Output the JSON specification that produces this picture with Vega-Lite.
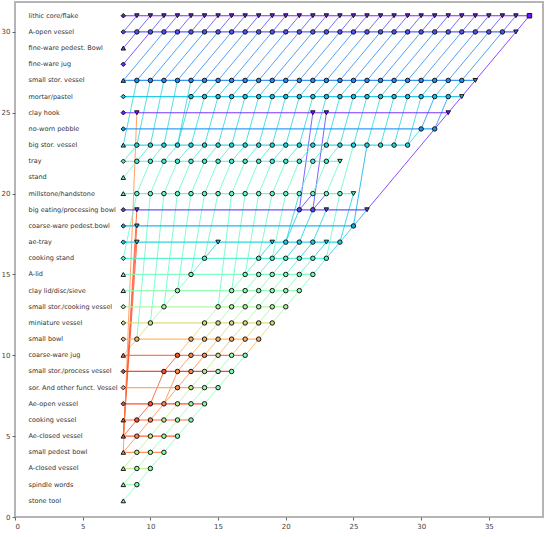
{
  "$schema": "https://vega.github.io/schema/vega-lite/v6.json",
  "width": 528,
  "height": 515,
  "autosize": {"type": "none"},
  "padding": {"left": 15, "top": 2, "right": 3, "bottom": 20},
  "background": "white",
  "config": {
    "view": {"stroke": "#b5b5b5", "strokeWidth": 2},
    "axis": {"grid": false, "domain": false, "tickSize": 3, "tickColor": "#666", "labelFontSize": 7, "labelColor": "#444", "labelFont": "DejaVu Sans", "title": null}
  },
  "datasets": {
    "labels": [
      {"r": 31, "name": "lithic core/flake"}, {"r": 30, "name": "A-open vessel"}, {"r": 29, "name": "fine-ware pedest. Bowl"},
      {"r": 28, "name": "fine-ware jug"}, {"r": 27, "name": "small stor. vessel"}, {"r": 26, "name": "mortar/pastel"},
      {"r": 25, "name": "clay hook"}, {"r": 24, "name": "no-worn pebble"}, {"r": 23, "name": "big stor. vessel"},
      {"r": 22, "name": "tray"}, {"r": 21, "name": "stand"}, {"r": 20, "name": "millstone/handstone"},
      {"r": 19, "name": "big eating/processing bowl"}, {"r": 18, "name": "coarse-ware pedest.bowl"}, {"r": 17, "name": "ae-tray"},
      {"r": 16, "name": "cooking stand"}, {"r": 15, "name": "A-lid"}, {"r": 14, "name": "clay lid/disc/sieve"},
      {"r": 13, "name": "small stor./cooking vessel"}, {"r": 12, "name": "miniature vessel"}, {"r": 11, "name": "small bowl"},
      {"r": 10, "name": "coarse-ware jug"}, {"r": 9, "name": "small stor./process vessel"}, {"r": 8, "name": "sor. And other funct. Vessel"},
      {"r": 7, "name": "Ae-open vessel"}, {"r": 6, "name": "cooking vessel"}, {"r": 5, "name": "Ae-closed vessel"},
      {"r": 4, "name": "small pedest bowl"}, {"r": 3, "name": "A-closed vessel"}, {"r": 2, "name": "spindle words"},
      {"r": 1, "name": "stone tool"}
    ],
    "nodes": [
      {"t":8,"r":1,"m":"A","k":1},
      {"t":8,"r":2,"m":"A","k":2},{"t":9,"r":2,"m":"o","k":1},
      {"t":8,"r":3,"m":"A","k":3},{"t":9,"r":3,"m":"o","k":2},{"t":10,"r":3,"m":"o","k":1},
      {"t":8,"r":4,"m":"A","k":4},{"t":9,"r":4,"m":"o","k":3},{"t":10,"r":4,"m":"o","k":2},{"t":11,"r":4,"m":"o","k":1},
      {"t":8,"r":5,"m":"A","k":5},{"t":9,"r":5,"m":"o","k":4},{"t":10,"r":5,"m":"o","k":3},{"t":11,"r":5,"m":"o","k":2},{"t":12,"r":5,"m":"o","k":1},
      {"t":8,"r":6,"m":"A","k":6},{"t":9,"r":6,"m":"o","k":5},{"t":10,"r":6,"m":"o","k":4},{"t":11,"r":6,"m":"o","k":3},{"t":12,"r":6,"m":"o","k":2},{"t":13,"r":6,"m":"o","k":1},
      {"t":8,"r":7,"m":"D","k":7},{"t":10,"r":7,"m":"o","k":5},{"t":11,"r":7,"m":"o","k":4},{"t":12,"r":7,"m":"o","k":3},{"t":13,"r":7,"m":"o","k":2},{"t":14,"r":7,"m":"o","k":1},
      {"t":8,"r":8,"m":"D","k":8},{"t":12,"r":8,"m":"o","k":4},{"t":13,"r":8,"m":"o","k":3},{"t":14,"r":8,"m":"o","k":2},{"t":15,"r":8,"m":"o","k":1},
      {"t":8,"r":9,"m":"D","k":9},{"t":11,"r":9,"m":"o","k":5},{"t":12,"r":9,"m":"o","k":4},{"t":13,"r":9,"m":"o","k":4},{"t":14,"r":9,"m":"o","k":3},{"t":15,"r":9,"m":"o","k":2},{"t":16,"r":9,"m":"o","k":1},
      {"t":8,"r":10,"m":"A","k":10},{"t":12,"r":10,"m":"o","k":5},{"t":13,"r":10,"m":"o","k":4},{"t":14,"r":10,"m":"o","k":4},{"t":15,"r":10,"m":"o","k":3},{"t":16,"r":10,"m":"o","k":2},{"t":17,"r":10,"m":"o","k":1},
      {"t":8,"r":11,"m":"D","k":11},{"t":9,"r":11,"m":"o","k":11},{"t":13,"r":11,"m":"o","k":11},{"t":14,"r":11,"m":"o","k":11},{"t":15,"r":11,"m":"o","k":11},{"t":16,"r":11,"m":"o","k":11},{"t":17,"r":11,"m":"o","k":11},{"t":18,"r":11,"m":"o","k":11},
      {"t":8,"r":12,"m":"D","k":12},{"t":10,"r":12,"m":"o","k":12},{"t":14,"r":12,"m":"o","k":12},{"t":15,"r":12,"m":"o","k":12},{"t":16,"r":12,"m":"o","k":12},{"t":17,"r":12,"m":"o","k":12},{"t":18,"r":12,"m":"o","k":12},{"t":19,"r":12,"m":"o","k":12},
      {"t":8,"r":13,"m":"D","k":13},{"t":11,"r":13,"m":"o","k":13},{"t":15,"r":13,"m":"o","k":13},{"t":16,"r":13,"m":"o","k":13},{"t":17,"r":13,"m":"o","k":13},{"t":18,"r":13,"m":"o","k":13},{"t":19,"r":13,"m":"o","k":13},{"t":20,"r":13,"m":"o","k":13},
      {"t":8,"r":14,"m":"A","k":14},{"t":12,"r":14,"m":"o","k":14},{"t":16,"r":14,"m":"o","k":14},{"t":17,"r":14,"m":"o","k":14},{"t":18,"r":14,"m":"o","k":14},{"t":19,"r":14,"m":"o","k":14},{"t":20,"r":14,"m":"o","k":14},{"t":21,"r":14,"m":"o","k":14},
      {"t":8,"r":15,"m":"A","k":15},{"t":13,"r":15,"m":"o","k":15},{"t":17,"r":15,"m":"o","k":15},{"t":18,"r":15,"m":"o","k":15},{"t":19,"r":15,"m":"o","k":15},{"t":20,"r":15,"m":"o","k":15},{"t":21,"r":15,"m":"o","k":15},{"t":22,"r":15,"m":"o","k":15},
      {"t":8,"r":16,"m":"D","k":16},{"t":14,"r":16,"m":"o","k":16},{"t":18,"r":16,"m":"o","k":16},{"t":19,"r":16,"m":"o","k":16},{"t":20,"r":16,"m":"o","k":16},{"t":21,"r":16,"m":"o","k":16},{"t":22,"r":16,"m":"o","k":16},{"t":23,"r":16,"m":"o","k":16},
      {"t":8,"r":17,"m":"D","k":17},{"t":9,"r":17,"m":"v","k":17},{"t":15,"r":17,"m":"v","k":17},{"t":19,"r":17,"m":"v","k":17},{"t":20,"r":17,"m":"o","k":17},{"t":21,"r":17,"m":"o","k":17},{"t":22,"r":17,"m":"o","k":17},{"t":23,"r":17,"m":"v","k":17},{"t":24,"r":17,"m":"o","k":17},
      {"t":8,"r":18,"m":"D","k":18},{"t":9,"r":18,"m":"v","k":18},{"t":25,"r":18,"m":"o","k":18},
      {"t":8,"r":19,"m":"D","k":19},{"t":9,"r":19,"m":"v","k":19},{"t":21,"r":19,"m":"o","k":19},{"t":22,"r":19,"m":"o","k":19},{"t":23,"r":19,"m":"v","k":19},{"t":26,"r":19,"m":"v","k":19},
      {"t":8,"r":20,"m":"A","k":20},{"t":9,"r":20,"m":"o","k":20},{"t":10,"r":20,"m":"o","k":20},{"t":11,"r":20,"m":"o","k":20},{"t":12,"r":20,"m":"o","k":20},{"t":13,"r":20,"m":"o","k":20},{"t":14,"r":20,"m":"o","k":20},{"t":15,"r":20,"m":"o","k":20},{"t":16,"r":20,"m":"o","k":20},{"t":17,"r":20,"m":"o","k":20},{"t":18,"r":20,"m":"o","k":20},{"t":19,"r":20,"m":"o","k":20},{"t":20,"r":20,"m":"o","k":20},{"t":21,"r":20,"m":"o","k":20},{"t":22,"r":20,"m":"o","k":20},{"t":23,"r":20,"m":"o","k":20},{"t":24,"r":20,"m":"o","k":20},{"t":25,"r":20,"m":"v","k":20},
      {"t":8,"r":21,"m":"A","k":21},
      {"t":8,"r":22,"m":"D","k":22},{"t":9,"r":22,"m":"o","k":22},{"t":10,"r":22,"m":"o","k":22},{"t":11,"r":22,"m":"o","k":22},{"t":12,"r":22,"m":"o","k":22},{"t":13,"r":22,"m":"o","k":22},{"t":14,"r":22,"m":"o","k":22},{"t":15,"r":22,"m":"o","k":22},{"t":16,"r":22,"m":"o","k":22},{"t":17,"r":22,"m":"o","k":22},{"t":18,"r":22,"m":"o","k":22},{"t":19,"r":22,"m":"o","k":22},{"t":20,"r":22,"m":"o","k":22},{"t":21,"r":22,"m":"o","k":22},{"t":22,"r":22,"m":"o","k":22},{"t":23,"r":22,"m":"o","k":22},{"t":24,"r":22,"m":"v","k":22},
      {"t":8,"r":23,"m":"A","k":23},{"t":9,"r":23,"m":"o","k":23},{"t":10,"r":23,"m":"o","k":23},{"t":11,"r":23,"m":"o","k":23},{"t":12,"r":23,"m":"o","k":23},{"t":13,"r":23,"m":"o","k":23},{"t":14,"r":23,"m":"o","k":23},{"t":15,"r":23,"m":"o","k":23},{"t":16,"r":23,"m":"o","k":23},{"t":17,"r":23,"m":"o","k":23},{"t":18,"r":23,"m":"o","k":23},{"t":19,"r":23,"m":"o","k":23},{"t":20,"r":23,"m":"o","k":23},{"t":21,"r":23,"m":"o","k":23},{"t":22,"r":23,"m":"o","k":23},{"t":23,"r":23,"m":"o","k":23},{"t":24,"r":23,"m":"o","k":23},{"t":25,"r":23,"m":"o","k":23},{"t":26,"r":23,"m":"o","k":23},{"t":27,"r":23,"m":"o","k":23},{"t":28,"r":23,"m":"o","k":23},{"t":29,"r":23,"m":"o","k":23},
      {"t":8,"r":24,"m":"D","k":24},{"t":30,"r":24,"m":"o","k":24},{"t":31,"r":24,"m":"o","k":24},
      {"t":8,"r":25,"m":"D","k":25},{"t":9,"r":25,"m":"v","k":25},{"t":22,"r":25,"m":"v","k":25},{"t":23,"r":25,"m":"v","k":25},{"t":32,"r":25,"m":"v","k":25},
      {"t":8,"r":26,"m":"D","k":26},{"t":13,"r":26,"m":"o","k":26},{"t":14,"r":26,"m":"o","k":26},{"t":15,"r":26,"m":"o","k":26},{"t":16,"r":26,"m":"o","k":26},{"t":17,"r":26,"m":"o","k":26},{"t":18,"r":26,"m":"o","k":26},{"t":19,"r":26,"m":"o","k":26},{"t":20,"r":26,"m":"o","k":26},{"t":21,"r":26,"m":"o","k":26},{"t":22,"r":26,"m":"o","k":26},{"t":23,"r":26,"m":"o","k":26},{"t":24,"r":26,"m":"o","k":26},{"t":25,"r":26,"m":"o","k":26},{"t":26,"r":26,"m":"o","k":26},{"t":27,"r":26,"m":"o","k":26},{"t":28,"r":26,"m":"o","k":26},{"t":29,"r":26,"m":"o","k":26},{"t":30,"r":26,"m":"o","k":26},{"t":31,"r":26,"m":"o","k":26},{"t":32,"r":26,"m":"o","k":26},{"t":33,"r":26,"m":"v","k":26},
      {"t":8,"r":27,"m":"A","k":27},{"t":9,"r":27,"m":"o","k":27},{"t":10,"r":27,"m":"o","k":27},{"t":11,"r":27,"m":"o","k":27},{"t":12,"r":27,"m":"o","k":27},{"t":13,"r":27,"m":"o","k":27},{"t":14,"r":27,"m":"o","k":27},{"t":15,"r":27,"m":"o","k":27},{"t":16,"r":27,"m":"o","k":27},{"t":17,"r":27,"m":"o","k":27},{"t":18,"r":27,"m":"o","k":27},{"t":19,"r":27,"m":"o","k":27},{"t":20,"r":27,"m":"o","k":27},{"t":21,"r":27,"m":"o","k":27},{"t":22,"r":27,"m":"o","k":27},{"t":23,"r":27,"m":"o","k":27},{"t":24,"r":27,"m":"o","k":27},{"t":25,"r":27,"m":"o","k":27},{"t":26,"r":27,"m":"o","k":27},{"t":27,"r":27,"m":"o","k":27},{"t":28,"r":27,"m":"o","k":27},{"t":29,"r":27,"m":"o","k":27},{"t":30,"r":27,"m":"o","k":27},{"t":31,"r":27,"m":"o","k":27},{"t":32,"r":27,"m":"o","k":27},{"t":33,"r":27,"m":"o","k":27},{"t":34,"r":27,"m":"v","k":27},
      {"t":8,"r":28,"m":"D","k":28},
      {"t":8,"r":29,"m":"A","k":29},
      {"t":8,"r":30,"m":"D","k":30},{"t":9,"r":30,"m":"o","k":30},{"t":10,"r":30,"m":"o","k":30},{"t":11,"r":30,"m":"o","k":30},{"t":12,"r":30,"m":"o","k":30},{"t":13,"r":30,"m":"o","k":30},{"t":14,"r":30,"m":"o","k":30},{"t":15,"r":30,"m":"o","k":30},{"t":16,"r":30,"m":"o","k":30},{"t":17,"r":30,"m":"o","k":30},{"t":18,"r":30,"m":"o","k":30},{"t":19,"r":30,"m":"o","k":30},{"t":20,"r":30,"m":"o","k":30},{"t":21,"r":30,"m":"o","k":30},{"t":22,"r":30,"m":"o","k":30},{"t":23,"r":30,"m":"o","k":30},{"t":24,"r":30,"m":"o","k":30},{"t":25,"r":30,"m":"o","k":30},{"t":26,"r":30,"m":"o","k":30},{"t":27,"r":30,"m":"o","k":30},{"t":28,"r":30,"m":"o","k":30},{"t":29,"r":30,"m":"o","k":30},{"t":30,"r":30,"m":"o","k":30},{"t":31,"r":30,"m":"o","k":30},{"t":32,"r":30,"m":"o","k":30},{"t":33,"r":30,"m":"o","k":30},{"t":34,"r":30,"m":"o","k":30},{"t":35,"r":30,"m":"o","k":30},{"t":36,"r":30,"m":"o","k":30},{"t":37,"r":30,"m":"v","k":30},
      {"t":8,"r":31,"m":"D","k":31},{"t":9,"r":31,"m":"v","k":31},{"t":10,"r":31,"m":"v","k":31},{"t":11,"r":31,"m":"v","k":31},{"t":12,"r":31,"m":"v","k":31},{"t":13,"r":31,"m":"v","k":31},{"t":14,"r":31,"m":"v","k":31},{"t":15,"r":31,"m":"v","k":31},{"t":16,"r":31,"m":"v","k":31},{"t":17,"r":31,"m":"v","k":31},{"t":18,"r":31,"m":"v","k":31},{"t":19,"r":31,"m":"v","k":31},{"t":20,"r":31,"m":"v","k":31},{"t":21,"r":31,"m":"v","k":31},{"t":22,"r":31,"m":"v","k":31},{"t":23,"r":31,"m":"v","k":31},{"t":24,"r":31,"m":"v","k":31},{"t":25,"r":31,"m":"v","k":31},{"t":26,"r":31,"m":"v","k":31},{"t":27,"r":31,"m":"v","k":31},{"t":28,"r":31,"m":"v","k":31},{"t":29,"r":31,"m":"v","k":31},{"t":30,"r":31,"m":"v","k":31},{"t":31,"r":31,"m":"v","k":31},{"t":32,"r":31,"m":"v","k":31},{"t":33,"r":31,"m":"v","k":31},{"t":34,"r":31,"m":"v","k":31},{"t":35,"r":31,"m":"v","k":31},{"t":36,"r":31,"m":"v","k":31},{"t":37,"r":31,"m":"v","k":31},{"t":38,"r":31,"m":"s","k":31}
    ],
    "edges": [
      {"t":8,"r":1,"t2":9,"r2":2,"k":1},{"t":8,"r":2,"t2":9,"r2":3,"k":2},{"t":8,"r":3,"t2":9,"r2":4,"k":3},{"t":8,"r":4,"t2":9,"r2":5,"k":4},{"t":8,"r":5,"t2":9,"r2":6,"k":5},
      {"t":9,"r":2,"t2":10,"r2":3,"k":1},{"t":9,"r":3,"t2":10,"r2":4,"k":2},{"t":9,"r":4,"t2":10,"r2":5,"k":3},{"t":9,"r":5,"t2":10,"r2":6,"k":4},{"t":9,"r":6,"t2":10,"r2":7,"k":5},
      {"t":10,"r":3,"t2":11,"r2":4,"k":1},{"t":10,"r":4,"t2":11,"r2":5,"k":2},{"t":10,"r":5,"t2":11,"r2":6,"k":3},{"t":10,"r":6,"t2":11,"r2":7,"k":4},{"t":10,"r":7,"t2":11,"r2":9,"k":5},
      {"t":11,"r":4,"t2":12,"r2":5,"k":1},{"t":11,"r":5,"t2":12,"r2":6,"k":2},{"t":11,"r":6,"t2":12,"r2":7,"k":3},{"t":11,"r":7,"t2":12,"r2":8,"k":4},{"t":11,"r":7,"t2":12,"r2":9,"k":4},{"t":11,"r":9,"t2":12,"r2":10,"k":5},
      {"t":12,"r":5,"t2":13,"r2":6,"k":1},{"t":12,"r":6,"t2":13,"r2":7,"k":2},{"t":12,"r":7,"t2":13,"r2":8,"k":3},{"t":12,"r":8,"t2":13,"r2":9,"k":4},{"t":12,"r":9,"t2":13,"r2":10,"k":4},
      {"t":13,"r":6,"t2":14,"r2":7,"k":1},{"t":13,"r":7,"t2":14,"r2":8,"k":2},{"t":13,"r":8,"t2":14,"r2":9,"k":3},{"t":13,"r":9,"t2":14,"r2":10,"k":4},
      {"t":14,"r":7,"t2":15,"r2":8,"k":1},{"t":14,"r":8,"t2":15,"r2":9,"k":2},{"t":14,"r":9,"t2":15,"r2":10,"k":3},
      {"t":15,"r":8,"t2":16,"r2":9,"k":1},{"t":15,"r":9,"t2":16,"r2":10,"k":2},
      {"t":16,"r":9,"t2":17,"r2":10,"k":1},

      {"t":8,"r":10,"t2":9,"r2":11,"k":11},{"t":9,"r":11,"t2":10,"r2":12,"k":12},{"t":10,"r":12,"t2":11,"r2":13,"k":13},{"t":11,"r":13,"t2":12,"r2":14,"k":14},
      {"t":12,"r":10,"t2":13,"r2":11,"k":11},{"t":12,"r":14,"t2":13,"r2":15,"k":15},
      {"t":13,"r":10,"t2":14,"r2":11,"k":11},{"t":13,"r":11,"t2":14,"r2":12,"k":12},{"t":13,"r":15,"t2":14,"r2":16,"k":16},
      {"t":14,"r":10,"t2":15,"r2":11,"k":11},{"t":14,"r":11,"t2":15,"r2":12,"k":12},{"t":14,"r":12,"t2":15,"r2":13,"k":13},{"t":14,"r":16,"t2":15,"r2":17,"k":17},
      {"t":15,"r":10,"t2":16,"r2":11,"k":11},{"t":15,"r":11,"t2":16,"r2":12,"k":12},{"t":15,"r":12,"t2":16,"r2":13,"k":13},{"t":15,"r":13,"t2":16,"r2":14,"k":14},
      {"t":16,"r":10,"t2":17,"r2":11,"k":11},{"t":16,"r":11,"t2":17,"r2":12,"k":12},{"t":16,"r":12,"t2":17,"r2":13,"k":13},{"t":16,"r":13,"t2":17,"r2":14,"k":14},{"t":16,"r":14,"t2":17,"r2":15,"k":15},
      {"t":17,"r":10,"t2":18,"r2":11,"k":11},{"t":17,"r":11,"t2":18,"r2":12,"k":12},{"t":17,"r":12,"t2":18,"r2":13,"k":13},{"t":17,"r":13,"t2":18,"r2":14,"k":14},{"t":17,"r":14,"t2":18,"r2":15,"k":15},{"t":17,"r":15,"t2":18,"r2":16,"k":16},
      {"t":18,"r":11,"t2":19,"r2":12,"k":12},{"t":18,"r":12,"t2":19,"r2":13,"k":13},{"t":18,"r":13,"t2":19,"r2":14,"k":14},{"t":18,"r":14,"t2":19,"r2":15,"k":15},{"t":18,"r":15,"t2":19,"r2":16,"k":16},{"t":18,"r":16,"t2":19,"r2":17,"k":17},
      {"t":19,"r":12,"t2":20,"r2":13,"k":13},{"t":19,"r":13,"t2":20,"r2":14,"k":14},{"t":19,"r":14,"t2":20,"r2":15,"k":15},{"t":19,"r":15,"t2":20,"r2":16,"k":16},{"t":19,"r":16,"t2":20,"r2":17,"k":17},
      {"t":20,"r":13,"t2":21,"r2":14,"k":14},{"t":20,"r":14,"t2":21,"r2":15,"k":15},{"t":20,"r":15,"t2":21,"r2":16,"k":16},{"t":20,"r":16,"t2":21,"r2":17,"k":17},{"t":20,"r":17,"t2":21,"r2":19,"k":17},
      {"t":21,"r":14,"t2":22,"r2":15,"k":15},{"t":21,"r":15,"t2":22,"r2":16,"k":16},{"t":21,"r":16,"t2":22,"r2":17,"k":17},{"t":21,"r":17,"t2":22,"r2":19,"k":17},{"t":21,"r":19,"t2":22,"r2":20,"k":19},{"t":21,"r":19,"t2":22,"r2":25,"k":19},
      {"t":22,"r":15,"t2":23,"r2":16,"k":16},{"t":22,"r":16,"t2":23,"r2":17,"k":17},{"t":22,"r":17,"t2":23,"r2":19,"k":17},{"t":22,"r":19,"t2":23,"r2":20,"k":19},{"t":22,"r":19,"t2":23,"r2":25,"k":19},
      {"t":23,"r":16,"t2":24,"r2":17,"k":17},{"t":24,"r":17,"t2":25,"r2":18,"k":17},{"t":25,"r":18,"t2":26,"r2":19,"k":18},

      {"t":26,"r":19,"t2":31,"r2":24,"k":25},{"t":31,"r":24,"t2":32,"r2":25,"k":25},{"t":32,"r":25,"t2":33,"r2":26,"k":25},{"t":33,"r":26,"t2":34,"r2":27,"k":25},{"t":34,"r":27,"t2":37,"r2":30,"k":25},{"t":37,"r":30,"t2":38,"r2":31,"k":25},

      {"t":8,"r":5,"t2":9,"r2":17,"k":5},{"t":8,"r":5,"t2":9,"r2":18,"k":5},{"t":8,"r":5,"t2":9,"r2":19,"k":5},{"t":8,"r":4,"t2":9,"r2":25,"k":4},
      {"t":8,"r":16,"t2":9,"r2":20,"k":20},{"t":8,"r":21,"t2":9,"r2":22,"k":21},{"t":8,"r":22,"t2":9,"r2":23,"k":22},{"t":8,"r":23,"t2":9,"r2":27,"k":23},
      {"t":8,"r":29,"t2":9,"r2":30,"k":29},{"t":8,"r":28,"t2":10,"r2":30,"k":28},{"t":8,"r":27,"t2":11,"r2":30,"k":27},{"t":8,"r":30,"t2":9,"r2":31,"k":30},

      {"t":9,"r":11,"t2":10,"r2":20,"k":20},{"t":10,"r":12,"t2":11,"r2":20,"k":20},{"t":11,"r":13,"t2":12,"r2":20,"k":20},{"t":12,"r":14,"t2":13,"r2":20,"k":20},{"t":13,"r":15,"t2":14,"r2":20,"k":20},{"t":14,"r":16,"t2":15,"r2":20,"k":20},{"t":15,"r":13,"t2":16,"r2":20,"k":20},{"t":16,"r":14,"t2":17,"r2":20,"k":20},{"t":17,"r":15,"t2":18,"r2":20,"k":20},{"t":18,"r":16,"t2":19,"r2":20,"k":20},{"t":19,"r":16,"t2":20,"r2":20,"k":20},{"t":20,"r":17,"t2":21,"r2":20,"k":17},{"t":23,"r":16,"t2":24,"r2":20,"k":20},{"t":24,"r":17,"t2":25,"r2":20,"k":17},

      {"t":9,"r":20,"t2":10,"r2":22,"k":20},{"t":10,"r":20,"t2":11,"r2":22,"k":20},{"t":11,"r":20,"t2":12,"r2":22,"k":20},{"t":12,"r":20,"t2":13,"r2":22,"k":20},{"t":13,"r":20,"t2":14,"r2":22,"k":20},{"t":14,"r":20,"t2":15,"r2":22,"k":20},{"t":15,"r":20,"t2":16,"r2":22,"k":20},{"t":16,"r":20,"t2":17,"r2":22,"k":20},{"t":17,"r":20,"t2":18,"r2":22,"k":20},{"t":18,"r":20,"t2":19,"r2":22,"k":20},{"t":19,"r":20,"t2":20,"r2":22,"k":20},{"t":20,"r":20,"t2":21,"r2":22,"k":20},{"t":21,"r":20,"t2":22,"r2":22,"k":20},{"t":22,"r":20,"t2":23,"r2":22,"k":20},{"t":23,"r":20,"t2":24,"r2":22,"k":20},

      {"t":9,"r":22,"t2":10,"r2":23,"k":22},{"t":10,"r":22,"t2":11,"r2":23,"k":22},{"t":11,"r":22,"t2":12,"r2":23,"k":22},{"t":12,"r":22,"t2":13,"r2":23,"k":22},{"t":13,"r":22,"t2":14,"r2":23,"k":22},{"t":14,"r":22,"t2":15,"r2":23,"k":22},{"t":15,"r":22,"t2":16,"r2":23,"k":22},{"t":16,"r":22,"t2":17,"r2":23,"k":22},{"t":17,"r":22,"t2":18,"r2":23,"k":22},{"t":18,"r":22,"t2":19,"r2":23,"k":22},{"t":19,"r":22,"t2":20,"r2":23,"k":22},{"t":20,"r":22,"t2":21,"r2":23,"k":22},{"t":21,"r":22,"t2":22,"r2":23,"k":22},{"t":22,"r":22,"t2":23,"r2":23,"k":22},{"t":23,"r":22,"t2":24,"r2":23,"k":22},
      {"t":24,"r":20,"t2":25,"r2":23,"k":20},{"t":25,"r":18,"t2":26,"r2":23,"k":18},

      {"t":9,"r":23,"t2":10,"r2":27,"k":23},{"t":10,"r":23,"t2":11,"r2":27,"k":23},{"t":11,"r":23,"t2":12,"r2":27,"k":23},{"t":12,"r":23,"t2":13,"r2":27,"k":23},{"t":12,"r":23,"t2":13,"r2":26,"k":23},
      {"t":13,"r":23,"t2":14,"r2":26,"k":23},{"t":14,"r":23,"t2":15,"r2":26,"k":23},{"t":15,"r":23,"t2":16,"r2":26,"k":23},{"t":16,"r":23,"t2":17,"r2":26,"k":23},{"t":17,"r":23,"t2":18,"r2":26,"k":23},{"t":18,"r":23,"t2":19,"r2":26,"k":23},{"t":19,"r":23,"t2":20,"r2":26,"k":23},{"t":20,"r":23,"t2":21,"r2":26,"k":23},{"t":21,"r":23,"t2":22,"r2":26,"k":23},{"t":22,"r":23,"t2":23,"r2":26,"k":23},{"t":23,"r":23,"t2":24,"r2":26,"k":23},{"t":24,"r":23,"t2":25,"r2":26,"k":23},{"t":25,"r":23,"t2":26,"r2":26,"k":23},{"t":26,"r":23,"t2":27,"r2":26,"k":23},{"t":27,"r":23,"t2":28,"r2":26,"k":23},{"t":28,"r":23,"t2":29,"r2":26,"k":23},{"t":29,"r":23,"t2":30,"r2":26,"k":23},
      {"t":29,"r":23,"t2":30,"r2":24,"k":23},{"t":30,"r":24,"t2":31,"r2":26,"k":24},{"t":31,"r":24,"t2":32,"r2":26,"k":24},

      {"t":13,"r":26,"t2":14,"r2":27,"k":26},{"t":14,"r":26,"t2":15,"r2":27,"k":26},{"t":15,"r":26,"t2":16,"r2":27,"k":26},{"t":16,"r":26,"t2":17,"r2":27,"k":26},{"t":17,"r":26,"t2":18,"r2":27,"k":26},{"t":18,"r":26,"t2":19,"r2":27,"k":26},{"t":19,"r":26,"t2":20,"r2":27,"k":26},{"t":20,"r":26,"t2":21,"r2":27,"k":26},{"t":21,"r":26,"t2":22,"r2":27,"k":26},{"t":22,"r":26,"t2":23,"r2":27,"k":26},{"t":23,"r":26,"t2":24,"r2":27,"k":26},{"t":24,"r":26,"t2":25,"r2":27,"k":26},{"t":25,"r":26,"t2":26,"r2":27,"k":26},{"t":26,"r":26,"t2":27,"r2":27,"k":26},{"t":27,"r":26,"t2":28,"r2":27,"k":26},{"t":28,"r":26,"t2":29,"r2":27,"k":26},{"t":29,"r":26,"t2":30,"r2":27,"k":26},{"t":30,"r":26,"t2":31,"r2":27,"k":26},{"t":31,"r":26,"t2":32,"r2":27,"k":26},{"t":32,"r":26,"t2":33,"r2":27,"k":26},

      {"t":9,"r":27,"t2":12,"r2":30,"k":27},{"t":10,"r":27,"t2":13,"r2":30,"k":27},{"t":11,"r":27,"t2":14,"r2":30,"k":27},{"t":12,"r":27,"t2":15,"r2":30,"k":27},{"t":13,"r":27,"t2":16,"r2":30,"k":27},{"t":14,"r":27,"t2":17,"r2":30,"k":27},{"t":15,"r":27,"t2":18,"r2":30,"k":27},{"t":16,"r":27,"t2":19,"r2":30,"k":27},{"t":17,"r":27,"t2":20,"r2":30,"k":27},{"t":18,"r":27,"t2":21,"r2":30,"k":27},{"t":19,"r":27,"t2":22,"r2":30,"k":27},{"t":20,"r":27,"t2":23,"r2":30,"k":27},{"t":21,"r":27,"t2":24,"r2":30,"k":27},{"t":22,"r":27,"t2":25,"r2":30,"k":27},{"t":23,"r":27,"t2":26,"r2":30,"k":27},{"t":24,"r":27,"t2":27,"r2":30,"k":27},{"t":25,"r":27,"t2":28,"r2":30,"k":27},{"t":26,"r":27,"t2":29,"r2":30,"k":27},{"t":27,"r":27,"t2":30,"r2":30,"k":27},{"t":28,"r":27,"t2":31,"r2":30,"k":27},{"t":29,"r":27,"t2":32,"r2":30,"k":27},{"t":30,"r":27,"t2":33,"r2":30,"k":27},{"t":31,"r":27,"t2":34,"r2":30,"k":27},{"t":32,"r":27,"t2":35,"r2":30,"k":27},{"t":33,"r":27,"t2":36,"r2":30,"k":27},

      {"t":9,"r":30,"t2":10,"r2":31,"k":30},{"t":10,"r":30,"t2":11,"r2":31,"k":30},{"t":11,"r":30,"t2":12,"r2":31,"k":30},{"t":12,"r":30,"t2":13,"r2":31,"k":30},{"t":13,"r":30,"t2":14,"r2":31,"k":30},{"t":14,"r":30,"t2":15,"r2":31,"k":30},{"t":15,"r":30,"t2":16,"r2":31,"k":30},{"t":16,"r":30,"t2":17,"r2":31,"k":30},{"t":17,"r":30,"t2":18,"r2":31,"k":30},{"t":18,"r":30,"t2":19,"r2":31,"k":30},{"t":19,"r":30,"t2":20,"r2":31,"k":30},{"t":20,"r":30,"t2":21,"r2":31,"k":30},{"t":21,"r":30,"t2":22,"r2":31,"k":30},{"t":22,"r":30,"t2":23,"r2":31,"k":30},{"t":23,"r":30,"t2":24,"r2":31,"k":30},{"t":24,"r":30,"t2":25,"r2":31,"k":30},{"t":25,"r":30,"t2":26,"r2":31,"k":30},{"t":26,"r":30,"t2":27,"r2":31,"k":30},{"t":27,"r":30,"t2":28,"r2":31,"k":30},{"t":28,"r":30,"t2":29,"r2":31,"k":30},{"t":29,"r":30,"t2":30,"r2":31,"k":30},{"t":30,"r":30,"t2":31,"r2":31,"k":30},{"t":31,"r":30,"t2":32,"r2":31,"k":30},{"t":32,"r":30,"t2":33,"r2":31,"k":30},{"t":33,"r":30,"t2":34,"r2":31,"k":30},{"t":34,"r":30,"t2":35,"r2":31,"k":30},{"t":35,"r":30,"t2":36,"r2":31,"k":30},{"t":36,"r":30,"t2":37,"r2":31,"k":30}
    ]
  },
  "layer": [
    {
      "data": {"name": "edges"},
      "mark": {"type": "rule", "strokeWidth": 1, "opacity": 0.8},
      "encoding": {
        "x": {"field": "t", "type": "quantitative", "scale": {"domain": [0, 39], "nice": false, "zero": false}, "axis": {"values": [0, 5, 10, 15, 20, 25, 30, 35]}},
        "y": {"field": "r", "type": "quantitative", "scale": {"domain": [0, 31.85], "nice": false, "zero": false}, "axis": {"values": [0, 5, 10, 15, 20, 25, 30]}},
        "x2": {"field": "t2"},
        "y2": {"field": "r2"},
        "color": {"field": "k", "type": "ordinal", "legend": null,
          "scale": {"domain": [1,2,3,4,5,6,7,8,9,10,11,12,13,14,15,16,17,18,19,20,21,22,23,24,25,26,27,28,29,30,31],
                    "range": ["#80ffb4","#94fda9","#bded89","#ff8947","#ff4f28","#ff5e30","#ff3f20","#ffa256","#ff3018","#ff6d38","#ffaf5e","#dbd77b","#a8f79b","#8afeaf","#75feba","#4df3ce","#1acee3","#05afed","#573ffd","#61fac5","#6bfdbf","#42edd3","#24d7df","#1a96f3","#6b20ff","#0fc5e7","#2489f5","#6130fe","#573ffd","#4d4ffc","#7510ff"]}}
      }
    },
    {
      "data": {"name": "nodes"},
      "mark": {"type": "line", "strokeWidth": 1.2, "opacity": 0.9},
      "encoding": {
        "x": {"field": "t", "type": "quantitative"},
        "y": {"field": "r", "type": "quantitative"},
        "detail": {"field": "r", "type": "nominal"},
        "order": {"field": "t", "type": "quantitative"},
        "color": {"field": "r", "type": "ordinal", "legend": null}
      }
    },
    {
      "data": {"name": "nodes"},
      "mark": {"type": "point", "filled": true, "size": 20, "stroke": "#141414", "strokeWidth": 1, "opacity": 1},
      "encoding": {
        "x": {"field": "t", "type": "quantitative"},
        "y": {"field": "r", "type": "quantitative"},
        "shape": {"field": "m", "type": "nominal", "legend": null,
          "scale": {"domain": ["A", "D", "o", "v", "s"], "range": ["triangle-up", "diamond", "circle", "triangle-down", "square"]}},
        "color": {"field": "k", "type": "ordinal", "legend": null}
      }
    },
    {
      "data": {"name": "labels"},
      "mark": {"type": "text", "align": "left", "baseline": "middle", "fontSize": 6.5, "font": "DejaVu Sans", "fill": "#333"},
      "encoding": {
        "x": {"datum": 1},
        "y": {"field": "r", "type": "quantitative"},
        "text": {"field": "name", "type": "nominal"}
      }
    }
  ]
}
